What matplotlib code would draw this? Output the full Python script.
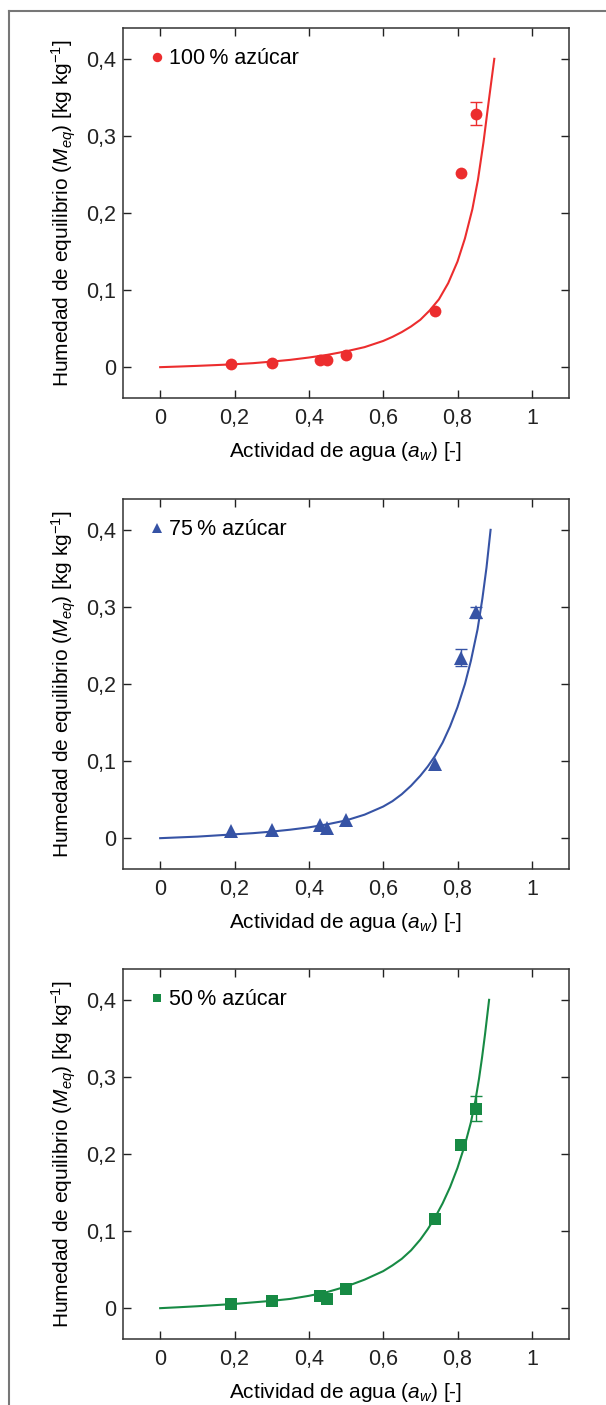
import matplotlib
matplotlib.use("Agg")
import matplotlib.pyplot as plt
from matplotlib.lines import Line2D

plt.rcParams['font.family'] = ['Liberation Sans', 'DejaVu Sans']
plt.rcParams['mathtext.fontset'] = 'custom'
plt.rcParams['mathtext.rm'] = 'Liberation Sans'
plt.rcParams['mathtext.it'] = 'Liberation Sans:italic'
plt.rcParams['mathtext.bf'] = 'Liberation Sans:bold'

# ---- data ----
aw = [0.19, 0.30, 0.43, 0.45, 0.50, 0.74, 0.81, 0.85]

m_100 = [0.0035, 0.006, 0.009, 0.009, 0.016, 0.073, 0.252, 0.329]
err_100 = [0, 0, 0, 0, 0, 0, 0, 0.015]
m_75 = [0.009, 0.010, 0.017, 0.013, 0.023, 0.096, 0.234, 0.293]
err_75 = [0, 0, 0, 0, 0, 0, 0.011, 0.007]
m_50 = [0.005, 0.009, 0.016, 0.012, 0.025, 0.116, 0.212, 0.259]
err_50 = [0, 0, 0, 0, 0, 0, 0, 0.016]

# fitted curves
curve_aw_100 = [0, 0.05, 0.1, 0.15, 0.2, 0.25, 0.3, 0.35, 0.4, 0.45, 0.5, 0.55, 0.6,
                0.625, 0.65, 0.675, 0.7, 0.725, 0.75, 0.775, 0.8, 0.82, 0.84, 0.855,
                0.87, 0.88, 0.89, 0.899]
curve_m_100 = [0, 0.0008, 0.0017, 0.0027, 0.0038, 0.0052, 0.0072, 0.0095, 0.0125, 0.016,
               0.0205, 0.026, 0.034, 0.0393, 0.0455, 0.0528, 0.0615, 0.0735, 0.088,
               0.109, 0.137, 0.167, 0.205, 0.243, 0.292, 0.33, 0.367, 0.40]
curve_aw_75 = [0, 0.05, 0.1, 0.15, 0.2, 0.25, 0.3, 0.35, 0.4, 0.45, 0.5, 0.55, 0.6,
               0.625, 0.65, 0.675, 0.7, 0.72, 0.74, 0.76, 0.78, 0.8, 0.82, 0.836, 0.854,
               0.867, 0.878, 0.889]
curve_m_75 = [0, 0.001, 0.002, 0.0035, 0.005, 0.0065, 0.0085, 0.011, 0.014, 0.018, 0.023,
              0.0305, 0.041, 0.048, 0.057, 0.068, 0.081, 0.093, 0.107, 0.124, 0.145,
              0.170, 0.200, 0.230, 0.271, 0.311, 0.351, 0.40]
curve_aw_50 = [0, 0.05, 0.1, 0.15, 0.2, 0.25, 0.3, 0.35, 0.4, 0.45, 0.5, 0.55, 0.6,
               0.625, 0.65, 0.675, 0.7, 0.72, 0.74, 0.76, 0.78, 0.8, 0.82, 0.836, 0.848,
               0.858, 0.866, 0.874, 0.885]
curve_m_50 = [0, 0.0012, 0.0025, 0.004, 0.0055, 0.0075, 0.0095, 0.012, 0.016, 0.021,
              0.028, 0.037, 0.048, 0.0555, 0.064, 0.075, 0.089, 0.1025, 0.118, 0.136,
              0.157, 0.182, 0.212, 0.241, 0.269, 0.298, 0.325, 0.355, 0.40]

labels = ['100\u2009% azúcar', '75\u2009% azúcar', '50\u2009% azúcar']
colors = ['#ec2d2e', '#3653a5', '#178a44']
markers = ['o', '^', 's']
msizes = [8.5, 9.5, 8.0]

xticks = [0, 0.2, 0.4, 0.6, 0.8, 1.0]
xticklabels = ['0', '0,2', '0,4', '0,6', '0,8', '1']
yticks = [0, 0.1, 0.2, 0.3, 0.4]
yticklabels = ['0', '0,1', '0,2', '0,3', '0,4']

panels = [
    (m_100, err_100, curve_aw_100, curve_m_100),
    (m_75, err_75, curve_aw_75, curve_m_75),
    (m_50, err_50, curve_aw_50, curve_m_50),
]

W, H = 606, 1405
fig = plt.figure(figsize=(W / 100, H / 100), dpi=100)

ax_left = 123 / W
ax_w = 446 / W
ax_tops = [28, 499, 969]
ax_h_px = 370

for i, (m, err, caw, cm) in enumerate(panels):
    top = ax_tops[i]
    ax = fig.add_axes([ax_left, 1 - (top + ax_h_px) / H, ax_w, ax_h_px / H])
    c = colors[i]
    ax.plot(caw, cm, color=c, lw=1.5, zorder=2, solid_joinstyle='round')
    ex = [x for x, e in zip(aw, err) if e > 0]
    ey = [y for y, e in zip(m, err) if e > 0]
    ee = [e for e in err if e > 0]
    ax.errorbar(ex, ey, yerr=ee, fmt='none', ecolor=c, elinewidth=1.0,
                capsize=4, capthick=1.0, zorder=3)
    ax.plot(aw, m, linestyle='none', marker=markers[i], color=c,
            markersize=msizes[i], markeredgewidth=0, label=labels[i], zorder=4)
    ax.set_xlim(-0.1, 1.1)
    ax.set_ylim(-0.04, 0.44)
    ax.set_xticks(xticks)
    ax.set_xticklabels(xticklabels)
    ax.set_yticks(yticks)
    ax.set_yticklabels(yticklabels)
    ax.tick_params(direction='in', length=6, width=1.0, labelsize=15.5,
                   top=True, right=True, colors='#222222')
    ax.tick_params(axis='x', pad=7)
    ax.tick_params(axis='y', pad=5)
    for s in ax.spines.values():
        s.set_color('#333333')
        s.set_linewidth(1.1)
    ax.set_xlabel('Actividad de agua ($a_w$) [-]', fontsize=15, labelpad=8)
    ax.set_ylabel('Humedad de equilibrio ($M_{eq}$) [kg kg$^{-1}$]', fontsize=15,
                  labelpad=6)
    ax.legend(loc='center left', bbox_to_anchor=(0.062, 0.917), frameon=False,
              handlelength=0.6, handletextpad=0.25, borderaxespad=0,
              borderpad=0, fontsize=15.5, markerscale=0.8)

# outer frame (page box)
fig.add_artist(Line2D([9 / W, 9 / W], [0, 1 - 11 / H], transform=fig.transFigure,
                      color='#777777', lw=1.5))
fig.add_artist(Line2D([9 / W, 1], [1 - 11 / H, 1 - 11 / H], transform=fig.transFigure,
                      color='#777777', lw=1.5))

fig.savefig('out.png', dpi=100)
